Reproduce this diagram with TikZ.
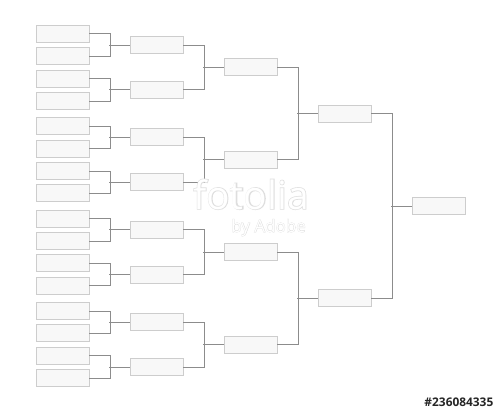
\documentclass[tikz,border=0pt]{standalone}
\usepackage{fontspec}
\newfontfamily\sansfont{Open Sans}
\newfontfamily\halofont[FakeBold=3.5]{Open Sans}
\definecolor{bord}{HTML}{CDCDCD}
\definecolor{fond}{HTML}{F8F8F8}
\definecolor{trait}{HTML}{8C8C8C}
\tikzset{
  case/.style={draw=bord, fill=fond, line width=0.9pt, minimum width=53pt, minimum height=17pt, inner sep=0pt},
  lien/.style={draw=trait, line width=0.8pt},
  filigrane/.style={text=white, inner sep=0pt}
}
% crochet entre deux cases et la case suivante
\newcommand{\crochet}[3]{%
  \draw[lien] (#1.east) -- ++(20.5,0) |- (#2.east);
  \draw[lien] (#3.west) -- ++(-20.5,0);}
% texte blanc avec halo gris
\newcommand{\halo}[1]{\makebox[0pt][l]{\color{black!13}\halofont #1}#1}

\begin{document}
\begin{tikzpicture}[x=1pt,y=-1pt]

\useasboundingbox[fill=white] (0,0) rectangle (500,413);

% Premier tour
\node[case] (a1) at (62.5,33.7) {};
\node[case] (a2) at (62.5,56.1) {};
\node[case] (a3) at (62.5,78.5) {};
\node[case] (a4) at (62.5,100.9) {};
\node[case] (a5) at (62.5,126.1) {};
\node[case] (a6) at (62.5,148.5) {};
\node[case] (a7) at (62.5,170.9) {};
\node[case] (a8) at (62.5,193.3) {};
\node[case] (a9) at (62.5,218.5) {};
\node[case] (a10) at (62.5,240.9) {};
\node[case] (a11) at (62.5,263.3) {};
\node[case] (a12) at (62.5,285.7) {};
\node[case] (a13) at (62.5,310.9) {};
\node[case] (a14) at (62.5,333.3) {};
\node[case] (a15) at (62.5,355.7) {};
\node[case] (a16) at (62.5,378.1) {};

% Huitiemes
\node[case] (b1) at (156.5,44.9) {};
\node[case] (b2) at (156.5,89.7) {};
\node[case] (b3) at (156.5,137.3) {};
\node[case] (b4) at (156.5,182.1) {};
\node[case] (b5) at (156.5,229.7) {};
\node[case] (b6) at (156.5,274.5) {};
\node[case] (b7) at (156.5,322.1) {};
\node[case] (b8) at (156.5,366.9) {};

% Quarts
\node[case] (c1) at (250.5,67.3) {};
\node[case] (c2) at (250.5,159.7) {};
\node[case] (c3) at (250.5,252.1) {};
\node[case] (c4) at (250.5,344.5) {};

% Demies
\node[case] (d1) at (344.5,113.5) {};
\node[case] (d2) at (344.5,298.3) {};

% Finale
\node[case] (f) at (438.5,205.9) {};

% Liens
\crochet{a1}{a2}{b1}
\crochet{a3}{a4}{b2}
\crochet{a5}{a6}{b3}
\crochet{a7}{a8}{b4}
\crochet{a9}{a10}{b5}
\crochet{a11}{a12}{b6}
\crochet{a13}{a14}{b7}
\crochet{a15}{a16}{b8}

\crochet{b1}{b2}{c1}
\crochet{b3}{b4}{c2}
\crochet{b5}{b6}{c3}
\crochet{b7}{b8}{c4}

\crochet{c1}{c2}{d1}
\crochet{c3}{c4}{d2}

\crochet{d1}{d2}{f}

% Filigrane
\node[filigrane, anchor=base west, font=\sansfont\fontsize{39}{39}\selectfont] (logo) at (193,209) {\halo{fotolia}};
\node[filigrane, anchor=base east, font=\sansfont\fontsize{17}{17}\selectfont] (adobe) at (306,232) {\halo{by Adobe}};

% Numero
\node[anchor=base east, inner sep=0pt, text=black!85, font=\sansfont\bfseries\fontsize{11.9}{12}\selectfont] (num) at (493.5,406.7) {\#236084335};

\end{tikzpicture}
\end{document}
